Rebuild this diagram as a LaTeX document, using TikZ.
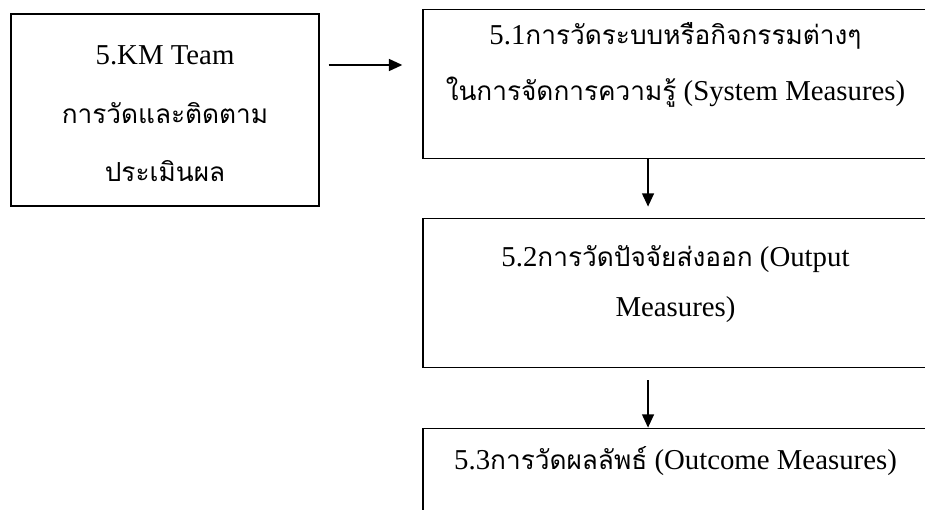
\documentclass[tikz,border=0pt]{standalone}
\usepackage{fontspec}
\setmainfont{Liberation Serif}
\newfontfamily\thaifont[Script=Thai,Scale=0.91]{Loma}
\usetikzlibrary{positioning,arrows.meta}
\newcommand{\thaitxt}[1]{{\thaifont #1}}
\tikzset{
  box/.style={draw, line width=1.1pt, inner sep=0pt},
  leftbox/.style={box, minimum width=231pt, minimum height=144pt},
  rightbox/.style={box, minimum width=378.75pt, minimum height=112pt},
  txt/.style={align=center, inner sep=0pt, font=\fontsize{21.6}{44}\selectfont},
  arr/.style={-{Triangle[length=10pt,width=9pt]}, line width=1.1pt},
}
\begin{document}
\begin{tikzpicture}[x=0.75pt, y=-0.75pt]
  \clip (0,0) rectangle (925,510);
  % boxes
  \node[leftbox]  (team) at (165,110) {};
  \node[rightbox] (sys)  at (675.5,84) {};
  \node[rightbox] (out)  at (675.5,293) {};
  \node[rightbox] (res)  at (675.5,503) {};
  % texts
  \node[txt, below=24pt of team.north] (teamtxt)
    {5.KM Team\\ \thaitxt{การวัดและติดตาม}\\ \thaitxt{ประเมินผล}};
  \node[txt, below=10.5pt of sys.north,
        font=\fontsize{21.6}{41.5}\selectfont] (systxt)
    {5.1\thaitxt{การวัดระบบหรือกิจกรรมต่างๆ}\\
     \thaitxt{ในการจัดการความรู้} (System Measures)};
  \node[txt, below=20.5pt of out.north,
        font=\fontsize{21.6}{38}\selectfont] (outtxt)
    {5.2\thaitxt{การวัดปัจจัยส่งออก} (Output\\ Measures)};
  \node[txt, below=14pt of res.north] (restxt)
    {5.3\thaitxt{การวัดผลลัพธ์} (Outcome Measures)};
  % arrows
  \draw[arr, shorten <=6.75pt, shorten >=15pt]
    ([yshift=33.75pt]team.east) -- ([yshift=14.25pt]sys.west);
  \draw[arr, shorten >=8.25pt]
    ([xshift=-20.6pt]sys.south) -- ([xshift=-20.6pt]out.north);
  \draw[arr, shorten <=9pt]
    ([xshift=-20.6pt]out.south) -- ([xshift=-20.6pt]res.north);
\end{tikzpicture}
\end{document}
